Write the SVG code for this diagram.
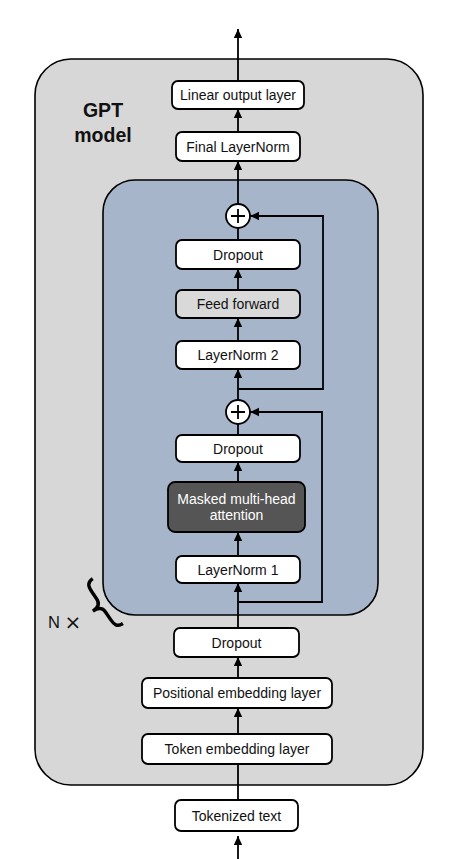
<svg xmlns="http://www.w3.org/2000/svg" width="450" height="859" viewBox="0 0 450 859">
<defs>
<marker id="ah" markerWidth="10" markerHeight="10" refX="9" refY="5" orient="auto" markerUnits="userSpaceOnUse">
<path d="M0,0.8 L9,5 L0,9.2 Z" fill="#000"/>
</marker>
<style>
.box{fill:#fff;stroke:#000;stroke-width:1.8}
.t{font-family:"Liberation Sans",Arial,sans-serif;font-size:14px;fill:#111;text-anchor:middle}
.c{fill:none;stroke:#000;stroke-width:1.8}
</style>
</defs>
<rect id="gpt" x="35" y="59" width="388" height="726" rx="36" fill="#d7d7d7" stroke="#000" stroke-width="1.6"/>
<g id="gpt-label">
<text x="103" y="117" font-family="Liberation Sans,Arial,sans-serif" font-size="19.5" font-weight="bold" text-anchor="middle" fill="#111">GPT</text>
<text x="103" y="142" font-family="Liberation Sans,Arial,sans-serif" font-size="19.5" font-weight="bold" text-anchor="middle" fill="#111">model</text>
</g>
<rect id="block" x="103" y="180" width="275" height="435" rx="32" fill="#a6b5c9" stroke="#000" stroke-width="1.6"/>
<g id="nx">
<text x="48" y="628" font-family="Liberation Sans,Arial,sans-serif" font-size="16.5" fill="#111">N <tspan font-family="DejaVu Sans,sans-serif" font-size="20" dy="1">×</tspan></text>
<path transform="translate(102,605) rotate(-34)" d="M7,-27 C0,-27 -1,-23 -1,-17 L-1,-8 C-1,-3 -4,0 -11,0 C-4,0 -1,3 -1,8 L-1,17 C-1,23 0,27 7,27" fill="none" stroke="#000" stroke-width="3.4"/>
</g>
<g id="connectors">
<line class="c" x1="238" y1="81" x2="238" y2="29" marker-end="url(#ah)"/>
<line class="c" x1="238" y1="132" x2="238" y2="109" marker-end="url(#ah)"/>
<line class="c" x1="238" y1="204" x2="238" y2="161" marker-end="url(#ah)"/>
<line class="c" x1="238" y1="240" x2="238" y2="228"/>
<line class="c" x1="238" y1="290" x2="238" y2="269" marker-end="url(#ah)"/>
<line class="c" x1="238" y1="341" x2="238" y2="318" marker-end="url(#ah)"/>
<line class="c" x1="238" y1="400" x2="238" y2="369" marker-end="url(#ah)"/>
<polyline class="c" points="238,389 323,389 323,216 250,216" marker-end="url(#ah)"/>
<line class="c" x1="238" y1="435" x2="238" y2="424"/>
<line class="c" x1="238" y1="482" x2="238" y2="462" marker-end="url(#ah)"/>
<line class="c" x1="238" y1="556" x2="238" y2="532" marker-end="url(#ah)"/>
<line class="c" x1="238" y1="628" x2="238" y2="583" marker-end="url(#ah)"/>
<polyline class="c" points="238,602 322,602 322,412 250,412" marker-end="url(#ah)"/>
<line class="c" x1="238" y1="678" x2="238" y2="657" marker-end="url(#ah)"/>
<line class="c" x1="238" y1="734" x2="238" y2="708" marker-end="url(#ah)"/>
<line class="c" x1="238" y1="800" x2="238" y2="764"/>
<line class="c" x1="238" y1="859" x2="238" y2="836" marker-end="url(#ah)"/>
</g>
<g id="linear"><rect class="box" x="172" y="81" width="132" height="28" rx="6"/><text class="t" x="238" y="100">Linear output layer</text></g>
<g id="finalnorm"><rect class="box" x="176" y="132" width="124" height="29" rx="6"/><text class="t" x="238" y="151.5">Final LayerNorm</text></g>
<g id="add2"><circle cx="238" cy="216" r="12" fill="#fff" stroke="#000" stroke-width="1.8"/><path d="M231,216 H245 M238,209 V223" stroke="#000" stroke-width="1.8"/></g>
<g id="dropout2"><rect class="box" x="176" y="240" width="124" height="29" rx="6"/><text class="t" x="238" y="259.5">Dropout</text></g>
<g id="ff"><rect class="box" x="176" y="290" width="124" height="28" rx="6" style="fill:#d9d9d9"/><text class="t" x="238" y="309">Feed forward</text></g>
<g id="ln2"><rect class="box" x="176" y="341" width="124" height="28" rx="6"/><text class="t" x="238" y="360">LayerNorm 2</text></g>
<g id="add1"><circle cx="238" cy="412" r="12" fill="#fff" stroke="#000" stroke-width="1.8"/><path d="M231,412 H245 M238,405 V419" stroke="#000" stroke-width="1.8"/></g>
<g id="dropout1"><rect class="box" x="176" y="435" width="124" height="27" rx="6"/><text class="t" x="238" y="453.5">Dropout</text></g>
<g id="mha"><rect class="box" x="168" y="482" width="137" height="50" rx="7" style="fill:#555"/><text class="t" x="236.5" y="503.5" style="fill:#fff">Masked multi-head</text><text class="t" x="236.5" y="520" style="fill:#fff">attention</text></g>
<g id="ln1"><rect class="box" x="176" y="556" width="124" height="27" rx="6"/><text class="t" x="238" y="574.5">LayerNorm 1</text></g>
<g id="dropout0"><rect class="box" x="174" y="628" width="125" height="29" rx="6"/><text class="t" x="236.5" y="647.5">Dropout</text></g>
<g id="pos"><rect class="box" x="142" y="678" width="190" height="30" rx="6"/><text class="t" x="237" y="698">Positional embedding layer</text></g>
<g id="tok"><rect class="box" x="142" y="734" width="190" height="30" rx="6"/><text class="t" x="237" y="754">Token embedding layer</text></g>
<g id="input"><rect class="box" x="175" y="800" width="123" height="31" rx="6"/><text class="t" x="236.5" y="820.5">Tokenized text</text></g>
</svg>
